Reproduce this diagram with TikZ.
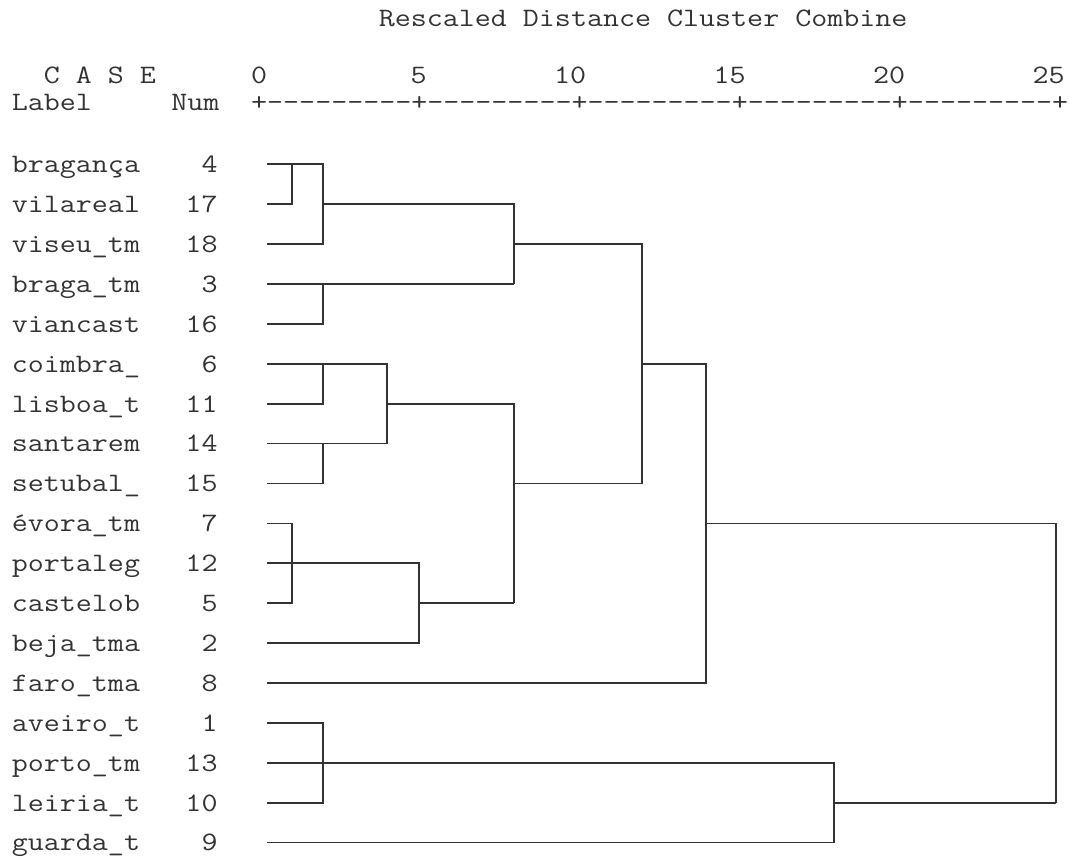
\documentclass[tikz,border=0pt]{standalone}
\usepackage{fontspec}
\setmonofont[FakeStretch=1.17]{Latin Modern Mono}
\usepackage{tikz}

\begin{document}
\begin{tikzpicture}[x=0.75pt, y=-0.75pt, line width=1.3pt, draw=black!80,
        txt/.style={anchor=base west, inner sep=0pt, text=black!80,
            font=\ttfamily\fontsize{19.94}{24}\selectfont},
        nr/.style={txt, anchor=base east}]
        % Khung hinh (giu ti le 1069 x 858)
        \useasboundingbox (0,0) rectangle (1069,858);

        % Tieu de va dong tieu de cot
        \node[txt] (title) at (377.9,26.7) {Rescaled Distance Cluster Combine};
        \node[txt] (case) at (42.9,83.3) {C A S E};
        \node[txt] (label) at (11,110) {Label};
        \node[txt] (num) at (170.5,110) {Num};

        % Thang khoang cach
        \node[txt] (t0) at (250.3,83.3) {0};
        \node[txt] (t5) at (409.8,83.3) {5};
        \node[txt] (t10) at (553.3,83.3) {10};
        \node[txt] (t15) at (712.8,83.3) {15};
        \node[txt] (t20) at (872.3,83.3) {20};
        \node[txt] (t25) at (1031.8,83.3) {25};
        \node[txt] (axis) at (250.3,110) {+---------+---------+---------+---------+---------+};

        % Nhan cac truong hop va so thu tu
        \node[txt] (braganca) at (11,172.6) {bragança};  \node[nr] (n4) at (218.4,172.6) {4};
        \node[txt] (vilareal) at (11,212.5) {vilareal};  \node[nr] (n17) at (218.4,212.5) {17};
        \node[txt] (viseu) at (11,252.4) {viseu\_tm};    \node[nr] (n18) at (218.4,252.4) {18};
        \node[txt] (braga) at (11,292.3) {braga\_tm};    \node[nr] (n3) at (218.4,292.3) {3};
        \node[txt] (viancast) at (11,332.2) {viancast};  \node[nr] (n16) at (218.4,332.2) {16};
        \node[txt] (coimbra) at (11,372.1) {coimbra\_};  \node[nr] (n6) at (218.4,372.1) {6};
        \node[txt] (lisboa) at (11,412.0) {lisboa\_t};   \node[nr] (n11) at (218.4,412.0) {11};
        \node[txt] (santarem) at (11,451.9) {santarem};  \node[nr] (n14) at (218.4,451.9) {14};
        \node[txt] (setubal) at (11,491.8) {setubal\_};  \node[nr] (n15) at (218.4,491.8) {15};
        \node[txt] (evora) at (11,531.7) {évora\_tm};    \node[nr] (n7) at (218.4,531.7) {7};
        \node[txt] (portaleg) at (11,571.6) {portaleg};  \node[nr] (n12) at (218.4,571.6) {12};
        \node[txt] (castelob) at (11,611.5) {castelob};  \node[nr] (n5) at (218.4,611.5) {5};
        \node[txt] (beja) at (11,651.4) {beja\_tma};     \node[nr] (n2) at (218.4,651.4) {2};
        \node[txt] (faro) at (11,691.3) {faro\_tma};     \node[nr] (n8) at (218.4,691.3) {8};
        \node[txt] (aveiro) at (11,731.2) {aveiro\_t};   \node[nr] (n1) at (218.4,731.2) {1};
        \node[txt] (porto) at (11,771.1) {porto\_tm};    \node[nr] (n13) at (218.4,771.1) {13};
        \node[txt] (leiria) at (11,811.0) {leiria\_t};   \node[nr] (n10) at (218.4,811.0) {10};
        \node[txt] (guarda) at (11,850.9) {guarda\_t};   \node[nr] (n9) at (218.4,850.9) {9};

        % Diem dau cua cac nhanh (theo so thu tu)
        \coordinate (c4) at (267,164.3);  \coordinate (c17) at (267,204.2);
        \coordinate (c18) at (267,244.1); \coordinate (c3) at (267,284.0);
        \coordinate (c16) at (267,323.9); \coordinate (c6) at (267,363.8);
        \coordinate (c11) at (267,403.7); \coordinate (c14) at (267,443.6);
        \coordinate (c15) at (267,483.5); \coordinate (c7) at (267,523.4);
        \coordinate (c12) at (267,563.3); \coordinate (c5) at (267,603.2);
        \coordinate (c2) at (267,643.1);  \coordinate (c8) at (267,683.0);
        \coordinate (c1) at (267,722.9);  \coordinate (c13) at (267,762.8);
        \coordinate (c10) at (267,802.7); \coordinate (c9) at (267,842.6);

        % Muc khoang cach noi cum
        \coordinate (h1) at (292,0);  \coordinate (h2) at (323,0);
        \coordinate (h3) at (387,0);  \coordinate (h4) at (419,0);
        \coordinate (h5) at (514,0);  \coordinate (h6) at (642,0);
        \coordinate (h7) at (706,0);  \coordinate (h8) at (834,0);
        \coordinate (h9) at (1056,0);

        % Cum bragança, vilareal, viseu, braga, viancast
        \draw (c17) -| (c4 -| h1);
        \draw (c4) -| (c18 -| h2) -- (c18);
        \draw (c16) -| (c3 -| h2);
        \draw (c3) -- (c3 -| h5);
        \draw (c17 -| h2) -| (c3 -| h5);
        \draw (c18 -| h5) -| (c15 -| h6);

        % Cum coimbra, lisboa, santarem, setubal
        \draw (c11) -| (c6 -| h2);
        \draw (c15) -| (c14 -| h2);
        \draw (c6) -| (c14 -| h3) -- (c14);
        \draw (c11 -| h3) -| (c5 -| h5);

        % Cum evora, portaleg, castelob, beja
        \draw (c7) -| (c5 -| h1) -- (c5);
        \draw (c12) -| (c2 -| h4) -- (c2);
        \draw (c5 -| h4) -- (c5 -| h5);
        \draw (c15 -| h5) -- (c15 -| h6);

        % Them faro, roi noi voi cum duoi
        \draw (c6 -| h6) -| (c8 -| h7) -- (c8);
        \draw (c7 -| h7) -| (c10 -| h9);

        % Cum aveiro, porto, leiria, guarda
        \draw (c1) -| (c10 -| h2) -- (c10);
        \draw (c13) -| (c9 -| h8) -- (c9);
        \draw (c10 -| h8) -- (c10 -| h9);

    \end{tikzpicture}
\end{document}
